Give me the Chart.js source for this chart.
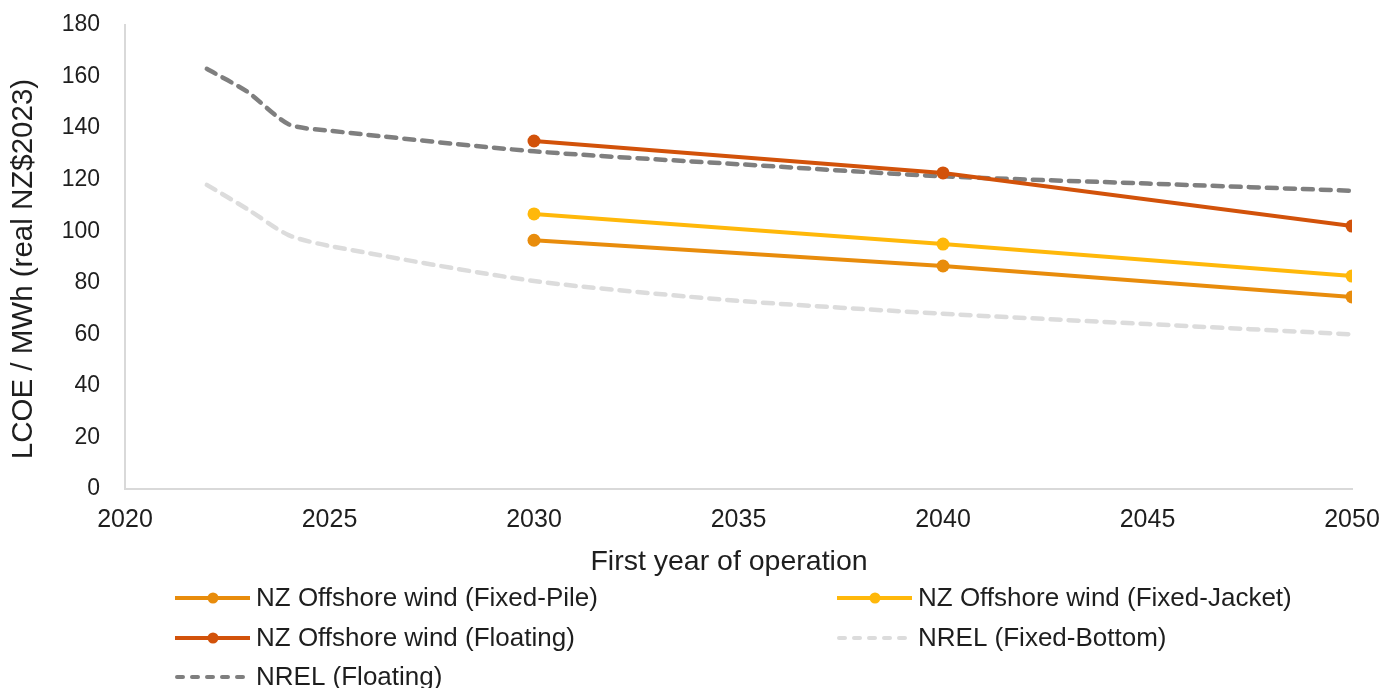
<!DOCTYPE html>
<html>
<head>
<meta charset="utf-8">
<script src="https://cdn.jsdelivr.net/npm/chart.js@4"></script>
<style>
html, body { margin: 0; padding: 0; background: #fff; }
#wrap { width: 1396px; height: 688px; position: relative; }
</style>
</head>
<body>
<div id="wrap"><canvas id="lcoeChart"></canvas></div>
<script>

// ---------- DATA ----------

const nzYears = [2030, 2040, 2050];
const fixedPile = [96.5, 86.5, 74.5];
const fixedJacket = [106.7, 95, 82.6];
const nzFloating = [135, 122.6, 102];

const nrelYears = [2022, 2023, 2024, 2025, 2030, 2035, 2040, 2045, 2050];
const nrelFixedBottom = [118, 108.5, 98.5, 94.3, 80.7, 73, 68, 64, 60];
const nrelFloating = [163, 154, 141.5, 139, 131, 126, 121.3, 118.5, 115.7];

const yTicks = [0, 20, 40, 60, 80, 100, 120, 140, 160, 180];

const seriesNames = [
  "NZ Offshore wind (Fixed-Pile)",
  "NZ Offshore wind (Fixed-Jacket)",
  "NZ Offshore wind (Floating)",
  "NREL (Fixed-Bottom)",
  "NREL (Floating)"
];

const xTitle = "First year of operation";
const yTitle = "LCOE / MWh (real NZ$2023)";

const textColor = "#1e1e1e";
const fontFamily = "'Liberation Sans', Arial, sans-serif";


// turn two arrays into x/y points
function toPoints(xs, ys){
  return xs.map((x, i) => ({x: x, y: ys[i]}));
}

function nzSet(label, values, color){
  return {
    label: label,
    data: toPoints(nzYears, values),
    borderColor: color,
    backgroundColor: color,
    borderWidth: 4,
    pointRadius: 6.5,
    pointHoverRadius: 6.5,
    pointBorderWidth: 0,
    tension: 0
  };
}

function nrelSet(label, values, color){
  return {
    label: label,
    data: toPoints(nrelYears, values),
    borderColor: color,
    backgroundColor: color,
    borderWidth: 4.5,
    borderDash: [10, 8],
    borderCapStyle: "round",
    pointRadius: 0,
    tension: 0.25
  };
}


// ---------- AXIS TITLES + LEGEND (drawn by hand) ----------

const extrasPlugin = {
  id: "extras",
  afterDraw(chart){
    const ctx = chart.ctx;
    ctx.save();
    ctx.fillStyle = textColor;
    ctx.textAlign = "center";
    ctx.textBaseline = "middle";

    // axis titles
    ctx.font = "28.5px " + fontFamily;
    ctx.fillText(xTitle, 729, 562);
    ctx.save();
    ctx.font = "29.5px " + fontFamily;
    ctx.translate(24, 269);
    ctx.rotate(-Math.PI / 2);
    ctx.fillText(yTitle, 0, 0);
    ctx.restore();

    // legend, two columns
    const cols = [175, 837];
    const rows = [598, 638, 677];
    ctx.font = "26px " + fontFamily;
    ctx.textAlign = "left";
    chart.data.datasets.forEach((ds, i) => {
      const x = cols[i % 2];
      const y = rows[Math.floor(i / 2)];
      ctx.save();
      ctx.strokeStyle = ds.borderColor;
      ctx.lineWidth = 4;
      ctx.lineCap = ds.borderDash ? "round" : "butt";
      ctx.setLineDash(ds.borderDash ? [6, 9] : []);
      ctx.beginPath();
      ctx.moveTo(x + (ds.borderDash ? 2 : 0), y);
      ctx.lineTo(x + 75, y);
      ctx.stroke();
      if(ds.pointRadius > 0){
        ctx.fillStyle = ds.backgroundColor;
        ctx.beginPath();
        ctx.arc(x + 38, y, 5.5, 0, Math.PI * 2);
        ctx.fill();
      }
      ctx.restore();
      ctx.fillText(ds.label, x + 81, y + 1);
    });
    ctx.restore();
  }
};


// ---------- CHART ----------

function createChart(){

const ctx = document.getElementById("lcoeChart");

new Chart(ctx, {
  type: "line",
  data: {
    datasets: [
      nzSet(seriesNames[0], fixedPile, "#E88C0C"),
      nzSet(seriesNames[1], fixedJacket, "#FFB80A"),
      nzSet(seriesNames[2], nzFloating, "#D2520A"),
      nrelSet(seriesNames[3], nrelFixedBottom, "#DCDCDC"),
      nrelSet(seriesNames[4], nrelFloating, "#7F7F7F")
    ]
  },
  options: {
    responsive: true,
    maintainAspectRatio: false,
    animation: false,
    events: [],
    layout: {
      padding: {left: 0, right: 44, top: 25, bottom: 108}
    },
    plugins: {
      legend: {display: false},
      tooltip: {enabled: false}
    },
    scales: {
      x: {
        type: "linear",
        min: 2020,
        max: 2050,
        grid: {display: false, drawTicks: false, tickLength: 0},
        border: {display: true, color: "#D9D9D9", width: 2},
        ticks: {
          stepSize: 5,
          padding: 16,
          color: textColor,
          font: {family: fontFamily, size: 25},
          callback: v => String(v)
        },
        afterFit: s => {
          s.height = 91;
          s.paddingLeft = 0;
          s.paddingRight = 0;
        }
      },
      y: {
        min: 0,
        max: 180,
        grid: {display: false, drawTicks: false, tickLength: 0},
        border: {display: true, color: "#D9D9D9", width: 2},
        afterBuildTicks: s => { s.ticks = yTicks.map(v => ({value: v})); },
        ticks: {
          padding: 25,
          color: textColor,
          font: {family: fontFamily, size: 23}
        },
        afterFit: s => {
          s.width = 125;
          s.paddingTop = 0;
          s.paddingBottom = 0;
        }
      }
    }
  },
  plugins: [extrasPlugin]
});

}

document.addEventListener("DOMContentLoaded", function(){
  createChart();
});

</script>
</body>
</html>
